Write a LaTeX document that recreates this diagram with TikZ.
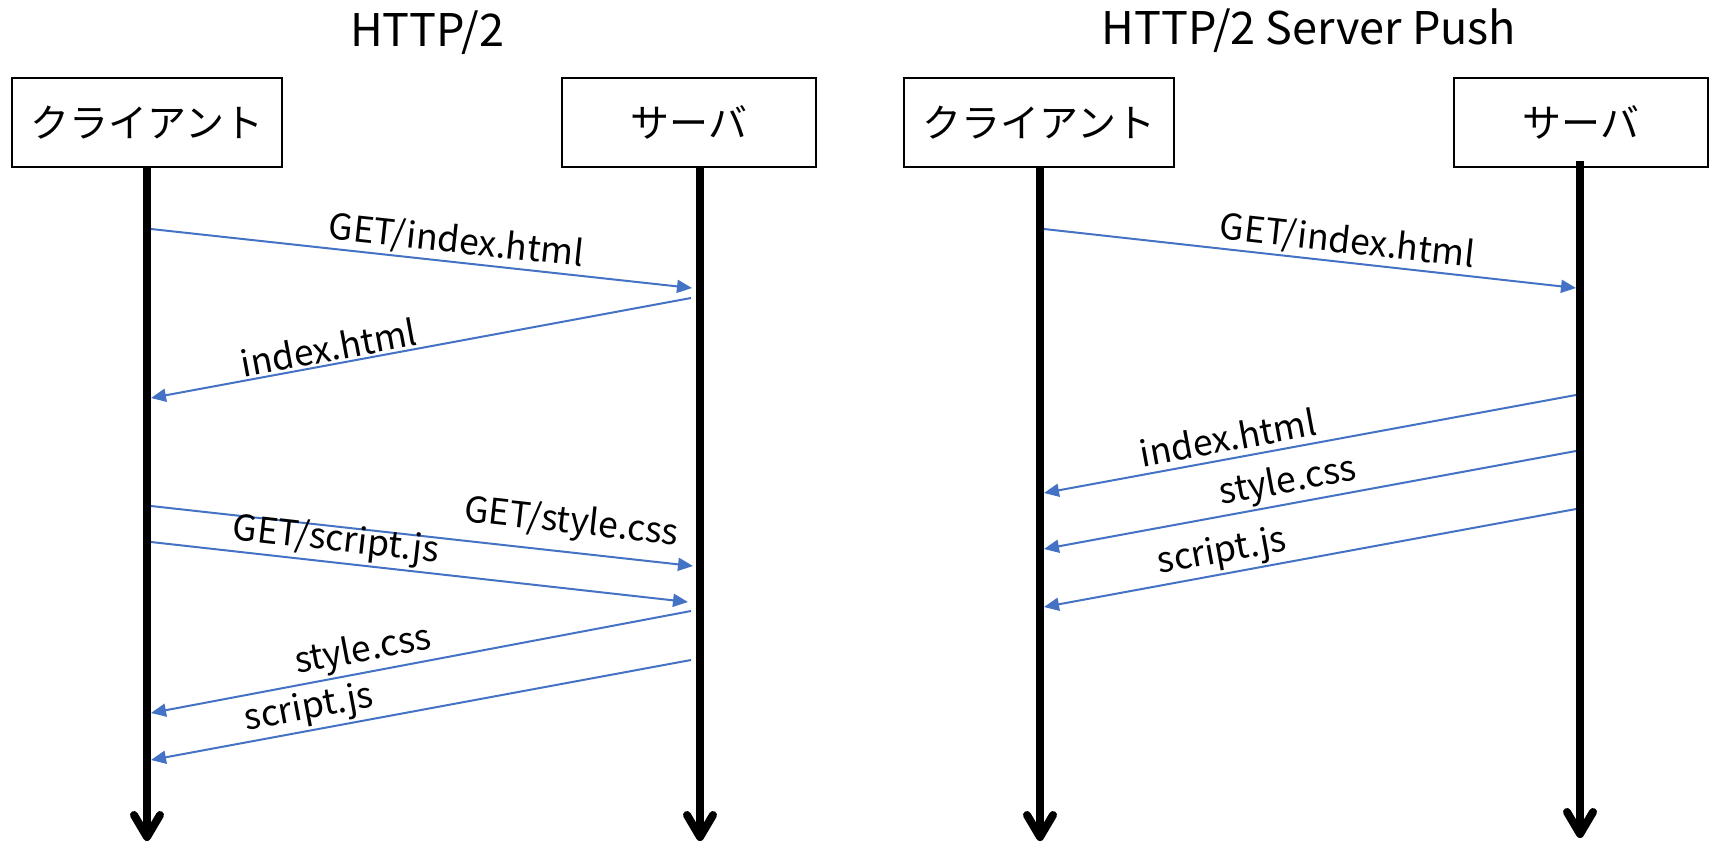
\documentclass[tikz,border=0pt]{standalone}
\usepackage{fontspec}
\setmainfont{Noto Sans CJK JP}
\usetikzlibrary{arrows.meta}
\definecolor{msgblue}{RGB}{68,114,196}
\begin{document}
\begin{tikzpicture}[x=1pt,y=-1pt,
  actor/.style={draw=black, line width=2pt, minimum height=89pt, inner sep=0pt,
                font=\fontsize{39}{42}\selectfont},
  life/.style={line width=8pt, -{Straight Barb[length=22pt,width=26pt,round]}},
  msg/.style={draw=msgblue, line width=2pt, -{Triangle[length=15pt,width=13pt]}},
  lbl/.style={font=\fontsize{35.5}{40}\selectfont, sloped, anchor=south,
              inner xsep=0pt, inner ysep=2pt, text=black},
  ttl/.style={font=\fontsize{45}{50}\selectfont, inner sep=0pt, anchor=base}]
\useasboundingbox (0,0) rectangle (1715,843);
% titles
\node[ttl] (t1) at (427,47) {HTTP/2};
\node[ttl] (t2) at (1309,45) {HTTP/2 Server Push};
% actors
\node[actor, minimum width=270.6pt] (lc) at (147,122.5) {クライアント};
\node[actor, minimum width=254.6pt] (ls) at (689,122.5) {サーバ};
\node[actor, minimum width=270.3pt] (rc) at (1038.9,122.5) {クライアント};
\node[actor, minimum width=254pt] (rs) at (1580.7,122.5) {サーバ};
% lifeline ends
\coordinate (lcEnd) at (147,841);
\coordinate (lsEnd) at (700,841);
\coordinate (rcEnd) at (1040,841);
\coordinate (rsEnd) at (1580,838);
\coordinate (rsTop) at (1580,161);
\draw[life] (lcEnd |- lc.south) -- (lcEnd);
\draw[life] (lsEnd |- ls.south) -- (lsEnd);
\draw[life] (rcEnd |- rc.south) -- (rcEnd);
\draw[life] (rsTop) -- (rsEnd);
% left messages
\coordinate (a1) at (151,229);  \coordinate (b1) at (692,288);
\coordinate (b2) at (691,298);  \coordinate (a2) at (151,398);
\coordinate (a3) at (151,506);  \coordinate (b3) at (693,566);
\coordinate (a4) at (151,542);  \coordinate (b4) at (688,602);
\coordinate (b5) at (691,611);  \coordinate (a5) at (151,713);
\coordinate (b6) at (691,660);  \coordinate (a6) at (151,760);
\draw[msg] (a1) -- node[lbl, pos=0.56] {GET/index.html} (b1);
\draw[msg] (b2) -- node[lbl, pos=0.665] {index.html} (a2);
\draw[msg] (a3) -- node[lbl, pos=0.77, inner ysep=10pt] {GET/style.css} (b3);
\draw[msg] (a4) -- node[lbl, pos=0.34] {GET/script.js} (b4);
\draw[msg] (b5) -- node[lbl, pos=0.6] {style.css} (a5);
\draw[msg] (b6) -- node[lbl, pos=0.7] {script.js} (a6);
% right messages
\coordinate (c1) at (1044,229); \coordinate (d1) at (1576,288);
\coordinate (d2) at (1576,395); \coordinate (c2) at (1044,493);
\coordinate (d3) at (1576,451); \coordinate (c3) at (1044,549);
\coordinate (d4) at (1576,509); \coordinate (c4) at (1044,607);
\draw[msg] (c1) -- node[lbl, pos=0.566] {GET/index.html} (d1);
\draw[msg] (d2) -- node[lbl, pos=0.647, inner ysep=6pt] {index.html} (c2);
\draw[msg] (d3) -- node[lbl, pos=0.534] {style.css} (c3);
\draw[msg] (d4) -- node[lbl, pos=0.658] {script.js} (c4);
\end{tikzpicture}
\end{document}
